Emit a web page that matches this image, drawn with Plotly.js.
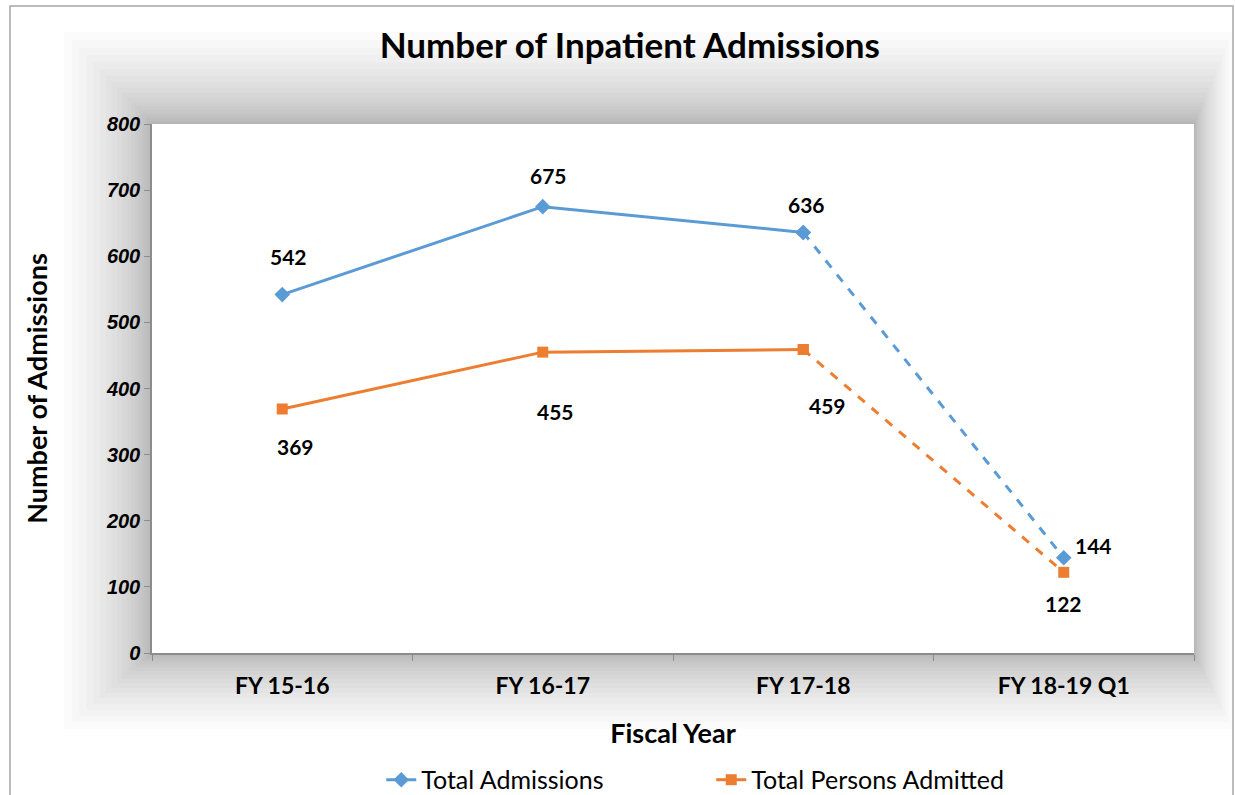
<!DOCTYPE html>
<html>
<head>
<meta charset="utf-8">
<script src="https://cdn.plot.ly/plotly-3.0.1.min.js"></script>
<style>
  body { margin: 0; background: #fff; }
  #plot { width: 1235px; height: 795px; }
</style>
</head>
<body>
<div id="plot"></div>
<script>
// fiscal years and the two series
var years = ["FY 15-16", "FY 16-17", "FY 17-18", "FY 18-19 Q1"];
var totalAdmissions = [542, 675, 636, 144];
var personsAdmitted = [369, 455, 459, 122];

var blue = "#5B9BD5";
var orange = "#ED7D31";
var font = "Lato, 'Open Sans', sans-serif";

// last segment (partial year) is dashed, so split each series in two traces
function solidPart(arr) { return arr.slice(0, 3); }
function dashedPart(arr) { return arr.slice(2); }

var trace1 = {
  x: solidPart(years), y: solidPart(totalAdmissions),
  name: "Total Admissions", mode: "lines+markers", type: "scatter",
  line: {color: blue, width: 3},
  marker: {symbol: "diamond", size: 12, color: blue}
};
var trace1b = {
  x: dashedPart(years), y: dashedPart(totalAdmissions),
  mode: "lines+markers", type: "scatter", showlegend: false, hoverinfo: "skip",
  line: {color: blue, width: 3, dash: "dash"},
  marker: {symbol: "diamond", size: 12, color: blue}
};
var trace2 = {
  x: solidPart(years), y: solidPart(personsAdmitted),
  name: "Total Persons Admitted", mode: "lines+markers", type: "scatter",
  line: {color: orange, width: 3},
  marker: {symbol: "square", size: 11, color: orange}
};
var trace2b = {
  x: dashedPart(years), y: dashedPart(personsAdmitted),
  mode: "lines+markers", type: "scatter", showlegend: false, hoverinfo: "skip",
  line: {color: orange, width: 3, dash: "dash"},
  marker: {symbol: "square", size: 11, color: orange}
};

// data label offsets (px) per point
var topShiftX = [6, 6, 3, 30];
var topShiftY = [38, 31, 28, 12];
var lowShiftX = [13, 13, 24, 0];
var lowShiftY = [-37, -59, -56, -31];

var labelFont = {family: font, size: 21, color: "#000", weight: "bold"};
var annotations = [];
years.forEach(function (yr, i) {
  annotations.push({
    x: yr, y: totalAdmissions[i], text: String(totalAdmissions[i]), showarrow: false,
    xshift: topShiftX[i], yshift: topShiftY[i], font: labelFont
  });
  annotations.push({
    x: yr, y: personsAdmitted[i], text: String(personsAdmitted[i]), showarrow: false,
    xshift: lowShiftX[i], yshift: lowShiftY[i], font: labelFont
  });
});

// soft shadow round the plot area: stacked faint frames (px -> paper coords)
function px(x) { return (x - 152) / 1042; }
function py(y) { return (653 - y) / 529; }
function rectPath(x0, y0, x1, y1) {
  return "M" + px(x0) + "," + py(y0) + " L" + px(x1) + "," + py(y0) +
    " L" + px(x1) + "," + py(y1) + " L" + px(x0) + "," + py(y1) + " Z";
}
var shapes = [];
var steps = 20;
for (var s = 1; s <= steps; s++) {
  var f = Math.pow(s / steps, 1.8);
  shapes.push({
    type: "path", xref: "paper", yref: "paper", layer: "below", fillrule: "evenodd",
    path: rectPath(152 - 88 * f, 124 - 92 * f, 1194 + 38 * f, 653 + 76 * f) + " " +
      rectPath(152, 124, 1194, 653),
    line: {width: 0}, fillcolor: "rgba(0,0,0,0.015)"
  });
}
// chart border
shapes.push({
  type: "rect", xref: "paper", yref: "paper", layer: "below",
  x0: px(10), x1: px(1233), y0: py(820), y1: py(6),
  line: {color: "#a6a6a6", width: 1.5}, fillcolor: "rgba(0,0,0,0)"
});

var data = [trace1b, trace2b, trace1, trace2];

var layout = {
  width: 1235, height: 795,
  margin: {l: 152, r: 41, t: 124, b: 142, autoexpand: false},
  paper_bgcolor: "#fff", plot_bgcolor: "#fff",
  font: {family: font, color: "#000"},
  title: {
    text: "Number of Inpatient Admissions",
    font: {family: font, size: 35, color: "#000", weight: "bold"},
    x: 0.51, xref: "container", y: 0.942, yref: "container", yanchor: "middle"
  },
  xaxis: {
    type: "category", categoryorder: "array", categoryarray: years, range: [-0.5, 3.5],
    showline: true, linecolor: "#8c8c8c", linewidth: 1.5,
    ticks: "outside", tickson: "boundaries", ticklen: 6, tickcolor: "#8c8c8c",
    ticklabelstandoff: 12,
    showgrid: false, zeroline: false,
    tickfont: {family: font, size: 23, color: "#000", weight: "bold"},
    title: {text: "Fiscal Year", font: {family: font, size: 27, color: "#000", weight: "bold"}, standoff: 26}
  },
  yaxis: {
    range: [0, 800], dtick: 100,
    showline: true, linecolor: "#8c8c8c", linewidth: 1.5,
    ticks: "outside", ticklen: 6, tickcolor: "#8c8c8c",
    showgrid: false, zeroline: false,
    tickfont: {family: "'Liberation Sans', Arial, sans-serif", size: 20, color: "#000", weight: "bold", style: "italic"},
    title: {text: "Number of Admissions", font: {family: font, size: 27, color: "#000", weight: "bold"}, standoff: 50}
  },
  legend: {
    orientation: "h", x: 0.22, xanchor: "left", y: -0.24, yanchor: "middle",
    font: {family: font, size: 25, color: "#000"},
    entrywidth: 285, entrywidthmode: "pixels",
    bgcolor: "rgba(0,0,0,0)"
  },
  showlegend: true,
  annotations: annotations,
  shapes: shapes
};

Plotly.newPlot("plot", data, layout, {displayModeBar: false});
</script>
</body>
</html>
